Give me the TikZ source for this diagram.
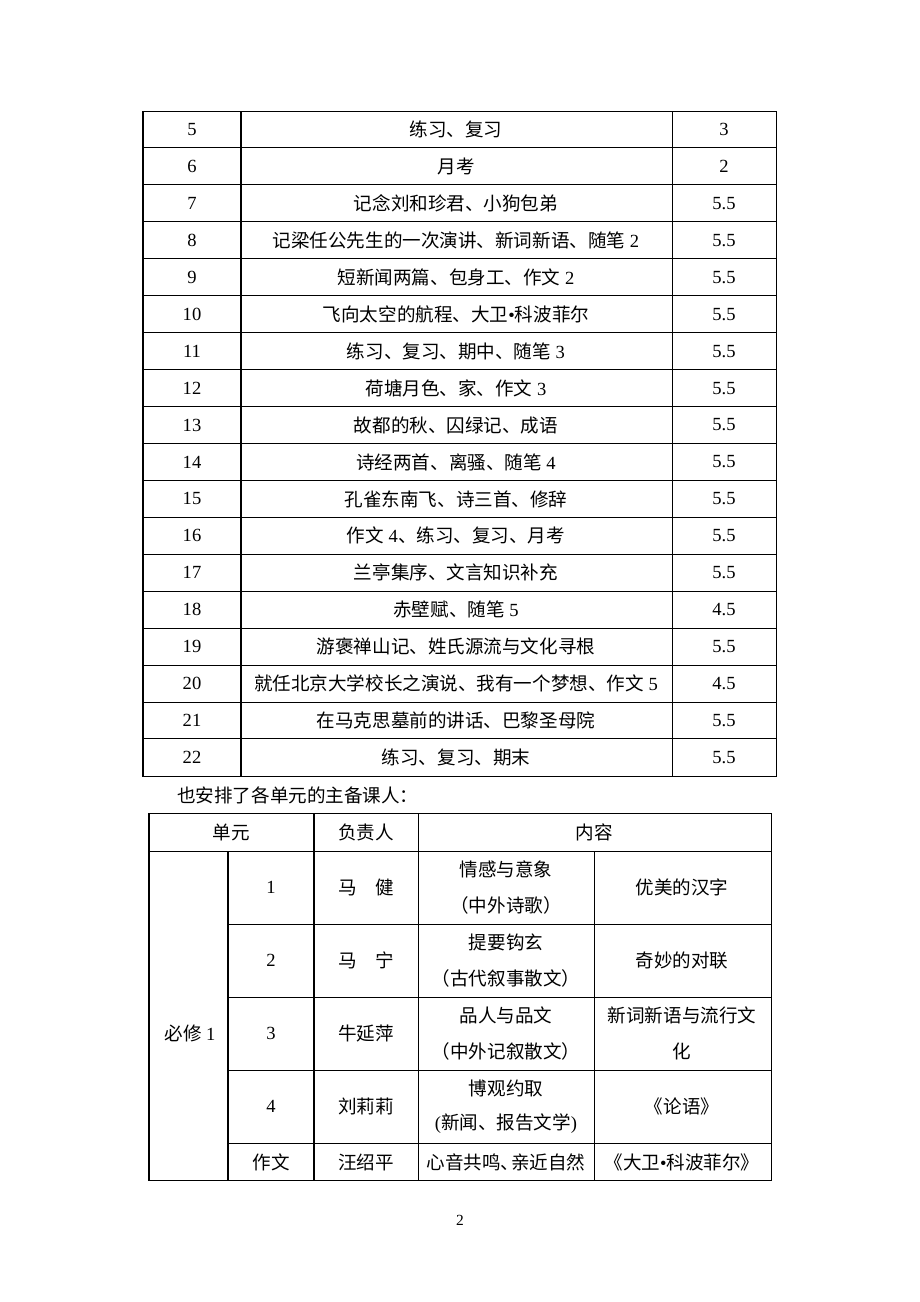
\documentclass[tikz,border=0pt]{standalone}
\usepackage{fontspec}
\setmainfont{Liberation Serif}
\newfontfamily\cjk{Noto Sans CJK SC}
\newcommand\zh[1]{{\cjk #1}}
\begin{document}
\begin{tikzpicture}[x=0.6467pt,y=-0.6467pt,
  rule/.style={line width=0.65pt,black},
  cell/.style={inner sep=0pt,font=\fontsize{12}{14}\selectfont,anchor=center},
  lcell/.style={inner sep=0pt,font=\fontsize{12}{14}\selectfont,anchor=west}]
\useasboundingbox (0,0) rectangle (920,1302);
\fill[white] (0,0) rectangle (920,1302);
% ---------- table 1 ----------
\draw[rule] (143,111) rectangle (776,776);
\draw[rule] (241,111) -- (241,776);
\draw[rule] (672,111) -- (672,776);
\foreach \k in {1,...,17} {\draw[rule] (143,111+36.94*\k) -- (776,111+36.94*\k);}
\foreach \n/\t/\h [count=\i from 0] in {
 5/\zh{练习、复习}/3,
 6/\zh{月考}/2,
 7/\zh{记念刘和珍君、小狗包弟}/5.5,
 8/\zh{记梁任公先生的一次演讲、新词新语、随笔} 2/5.5,
 9/\zh{短新闻两篇、包身工、作文} 2/5.5,
 10/\zh{飞向太空的航程、大卫}•\zh{科波菲尔}/5.5,
 11/\zh{练习、复习、期中、随笔} 3/5.5,
 12/\zh{荷塘月色、家、作文} 3/5.5,
 13/\zh{故都的秋、囚绿记、成语}/5.5,
 14/\zh{诗经两首、离骚、随笔} 4/5.5,
 15/\zh{孔雀东南飞、诗三首、修辞}/5.5,
 16/\zh{作文} 4\zh{、练习、复习、月考}/5.5,
 17/\zh{兰亭集序、文言知识补充}/5.5,
 18/\zh{赤壁赋、随笔} 5/4.5,
 19/\zh{游褒禅山记、姓氏源流与文化寻根}/5.5,
 20/\zh{就任北京大学校长之演说、我有一个梦想、作文} 5/4.5,
 21/\zh{在马克思墓前的讲话、巴黎圣母院}/5.5,
 22/\zh{练习、复习、期末}/5.5} {
  \node[cell] (num\n) at (192,129.5+36.94*\i) {\n};
  \node[cell] (txt\n) at (456,129.5+36.94*\i) {\t};
  \node[cell] (hrs\n) at (724,129.5+36.94*\i) {\h};
}
% ---------- sentence ----------
\node[lcell] (intro) at (177,795) {\zh{也安排了各单元的主备课人：}};
% ---------- table 2 ----------
\draw[rule] (149,813) rectangle (771,1180);
\draw[rule] (149,851) -- (771,851);
\foreach \yy in {924,997,1070,1143} {\draw[rule] (228,\yy) -- (771,\yy);}
\draw[rule] (228,851) -- (228,1180);
\draw[rule] (314,813) -- (314,1180);
\draw[rule] (418,813) -- (418,1180);
\draw[rule] (594,851) -- (594,1180);
\node[cell] (h1) at (231,832) {\zh{单元}};
\node[cell] (h2) at (366,832) {\zh{负责人}};
\node[cell] (h3) at (594,832) {\zh{内容}};
\node[cell] (bx) at (190,1033) {\zh{必修} 1};
% row 1
\node[cell] (u1) at (271,887) {1};
\node[cell] (p1) at (366,887) {\zh{马\hspace{1em}健}};
\node[cell] (a1) at (506,869) {\zh{情感与意象}};
\node[cell] (b1) at (506,905) {\zh{（中外诗歌）}};
\node[cell] (c1) at (682,887) {\zh{优美的汉字}};
% row 2
\node[cell] (u2) at (271,960) {2};
\node[cell] (p2) at (366,960) {\zh{马\hspace{1em}宁}};
\node[cell] (a2) at (506,942) {\zh{提要钩玄}};
\node[cell] (b2) at (506,978) {\zh{（古代叙事散文）}};
\node[cell] (c2) at (682,960) {\zh{奇妙的对联}};
% row 3
\node[cell] (u3) at (271,1033) {3};
\node[cell] (p3) at (366,1033) {\zh{牛延萍}};
\node[cell] (a3) at (506,1015) {\zh{品人与品文}};
\node[cell] (b3) at (506,1051) {\zh{（中外记叙散文）}};
\node[cell] (c3) at (682,1015) {\zh{新词新语与流行文}};
\node[cell] (d3) at (682,1051) {\zh{化}};
% row 4
\node[cell] (u4) at (271,1106) {4};
\node[cell] (p4) at (366,1106) {\zh{刘莉莉}};
\node[cell] (a4) at (506,1088) {\zh{博观约取}};
\node[cell] (b4) at (506,1124) {(\zh{新闻、报告文学})};
\node[cell] (c4) at (682,1106) {\zh{《论语》}};
% row 5
\node[cell] (u5) at (271,1162) {\zh{作文}};
\node[cell] (p5) at (366,1162) {\zh{汪绍平}};
\node[cell] (a5) at (506,1162) {\zh{心音共鸣、\hspace{-0.45em}亲近自然}};
\node[cell] (c5) at (682,1162) {\zh{《大卫}•\zh{科波菲尔》}};
% page number
\node[cell,font=\fontsize{10}{12}\selectfont] (pg) at (460,1220) {2};
\end{tikzpicture}
\end{document}
